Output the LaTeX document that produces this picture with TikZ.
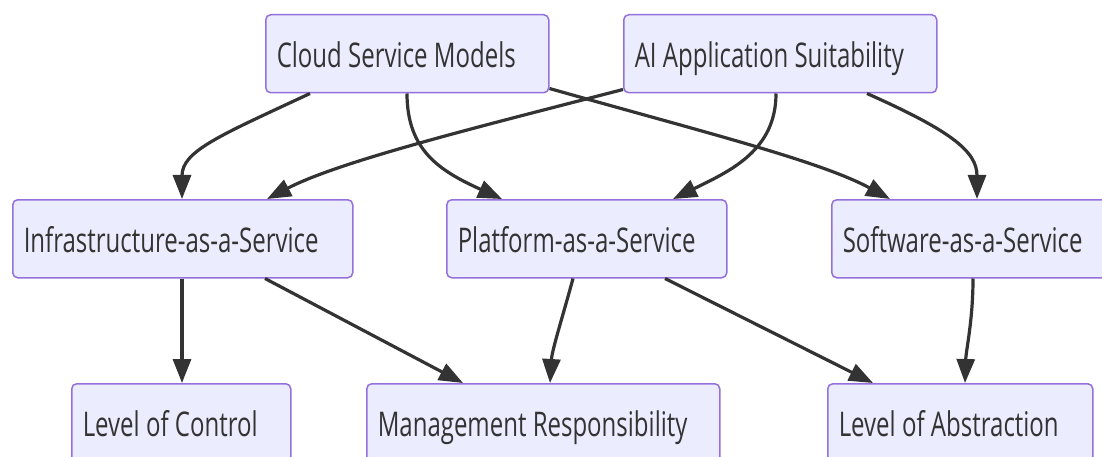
\documentclass[tikz,border=0pt]{standalone}
\usepackage{fontspec}
\setmainfont{Open Sans}[FakeStretch=0.706]
\usetikzlibrary{arrows.meta,calc}
\definecolor{boxfill}{HTML}{ECECFF}
\definecolor{boxline}{HTML}{9370DB}
\definecolor{ink}{HTML}{333333}
\tikzset{
 box/.style={draw=boxline, fill=boxfill, line width=1.5pt, rounded corners=5pt,
   minimum height=78pt, inner xsep=11pt, inner ysep=0pt, align=left, text=ink,
   font=\fontsize{34}{40}\selectfont, text height=28pt, text depth=0pt, anchor=north west,
   execute at begin node={\spaceskip=6.3pt\relax}},
 conn/.style={draw=ink, line width=3.2pt, -{Triangle[length=24pt,width=18pt]}}
}
\begin{document}
\begin{tikzpicture}[x=1pt,y=-1pt]
\useasboundingbox (0,0) rectangle (1102,457);
\clip (0,0) rectangle (1102,457);
\node[box, text width=261pt] (cloud) at (265,14) {Cloud Service Models};
\node[box, text width=291pt] (ai) at (623,14) {AI Application Suitability};
\node[box, text width=318pt] (iaas) at (12,199) {Infrastructure-as-a-Service};
\node[box, text width=258pt] (paas) at (446,199) {Platform-as-a-Service};
\node[box, text width=260pt] (saas) at (831,199) {Software-as-a-Service};
\node[box, text width=197pt] (ctrl) at (71,383) {Level of Control};
\node[box, text width=331pt] (mgmt) at (366,383) {Management Responsibility};
\node[box, text width=243pt] (abs) at (827,383) {Level of Abstraction};

\draw[conn] ([xshift=45pt]cloud.south west) .. controls +(-90,42) and +(0,-48) .. ([xshift=170pt]iaas.north west);
\draw[conn] ([xshift=142pt]cloud.south west) .. controls +(0,57) and +(-62,-28) .. ([xshift=56pt]paas.north west);
\draw[conn] ([yshift=5pt]cloud.south east) .. controls +(152,43) and +(-70,-38) .. ([xshift=59pt]saas.north west);
\draw[conn] ([yshift=4pt]ai.south west) .. controls +(-143,37) and +(73,-38) .. ([xshift=255pt]iaas.north west);
\draw[conn] ([xshift=153pt]ai.south west) .. controls +(0,57) and +(57,-28) .. ([xshift=227pt]paas.north west);
\draw[conn] ([xshift=244pt]ai.south west) .. controls +(83,37) and +(0,-48) .. ([xshift=146pt]saas.north west);
\draw[conn] ([xshift=170pt]iaas.south west) -- ([xshift=111pt]ctrl.north west);
\draw[conn] ([xshift=253pt]iaas.south west) -- ([xshift=97pt]mgmt.north west);
\draw[conn] ([xshift=127pt]paas.south west) .. controls +(-10,37) and +(2,-33) .. ([xshift=184pt]mgmt.north west);
\draw[conn] ([xshift=219pt]paas.south west) -- ([xshift=46pt]abs.north west);
\draw[conn] ([xshift=142pt]saas.south west) .. controls +(0,42) and +(1,-33) .. ([xshift=138pt]abs.north west);
\end{tikzpicture}
\end{document}
